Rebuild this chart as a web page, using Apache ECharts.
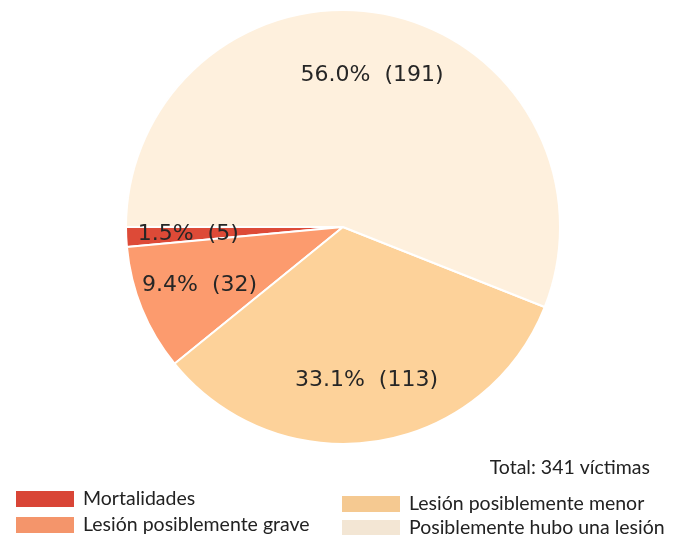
<!DOCTYPE html>
<html>
<head>
<meta charset="utf-8">
<script src="https://cdn.jsdelivr.net/npm/echarts@6/dist/echarts.min.js"></script>
<style>
  html, body { margin: 0; padding: 0; background: #ffffff; }
  #chart { width: 683px; height: 535px; }
</style>
</head>
<body>
<div id="chart"></div>
<script>
// Data
const categories = ['Mortalidades', 'Lesión posiblemente grave', 'Lesión posiblemente menor', 'Posiblemente hubo una lesión'];
const counts = [5, 32, 113, 191];
const percents = ['1.5%', '9.4%', '33.1%', '56.0%'];
const sliceColors = ['#dd4a37', '#fc9b6e', '#fdd29a', '#fef0dd'];
const legendColors = ['#d94536', '#f4956b', '#f5c991', '#f3e6d4'];
const totalLabel = 'Total: 341 víctimas';

const CENTER = [343, 227];
const RADIUS = 217;
const LEGEND_FONT = "Lato, 'Open Sans', sans-serif";
const LABEL_FONT = "'DejaVu Sans', sans-serif";
// legend entry anchors (two columns, right one sits a bit lower)
const legendSpots = [[14, 489], [14, 515], [340, 494], [340, 518]];

const pieData = categories.map((name, i) => ({
  name,
  value: counts[i],
  itemStyle: { color: sliceColors[i] },
}));

// labels sit at 0.7 of the radius: a transparent ring whose midpoint is there
const labelData = categories.map((name, i) => ({
  name,
  value: counts[i],
  label: { formatter: percents[i] + '  (' + counts[i] + ')' },
}));

// one legend component per entry so nothing wraps
const legends = categories.map((name, i) => ({
  left: legendSpots[i][0],
  top: legendSpots[i][1],
  padding: 0,
  itemWidth: 60,
  itemHeight: 18,
  icon: 'rect',
  selectedMode: false,
  textStyle: { fontFamily: LEGEND_FONT, fontSize: 19.5, lineHeight: 18, color: '#222222', padding: [0, 0, 0, 3] },
  data: [{ name, itemStyle: { color: legendColors[i] } }],
}));

const chart = echarts.init(document.getElementById('chart'), null, { renderer: 'canvas' });
chart.setOption({
  animation: false,
  backgroundColor: '#ffffff',
  legend: legends,
  graphic: [{
    type: 'text',
    right: 33,
    top: 458,
    style: { text: totalLabel, fontFamily: LEGEND_FONT, fontSize: 19.5, fill: '#222222' },
  }],
  series: [
    {
      type: 'pie',
      center: CENTER,
      radius: [0, RADIUS],
      startAngle: 180,
      clockwise: false,
      avoidLabelOverlap: false,
      label: { show: false },
      labelLine: { show: false },
      emphasis: { disabled: true },
      itemStyle: { borderColor: '#ffffff', borderWidth: 2 },
      data: pieData,
    },
    {
      type: 'pie',
      center: CENTER,
      radius: [RADIUS * 0.4, RADIUS],
      startAngle: 180,
      clockwise: false,
      silent: true,
      avoidLabelOverlap: false,
      itemStyle: { color: 'rgba(0,0,0,0)' },
      legendHoverLink: false,
      label: {
        show: true,
        position: 'inside',
        fontFamily: LABEL_FONT,
        fontSize: 22,
        color: '#262626',
      },
      labelLine: { show: false },
      emphasis: { disabled: true },
      data: labelData,
    },
  ],
});
</script>
</body>
</html>
